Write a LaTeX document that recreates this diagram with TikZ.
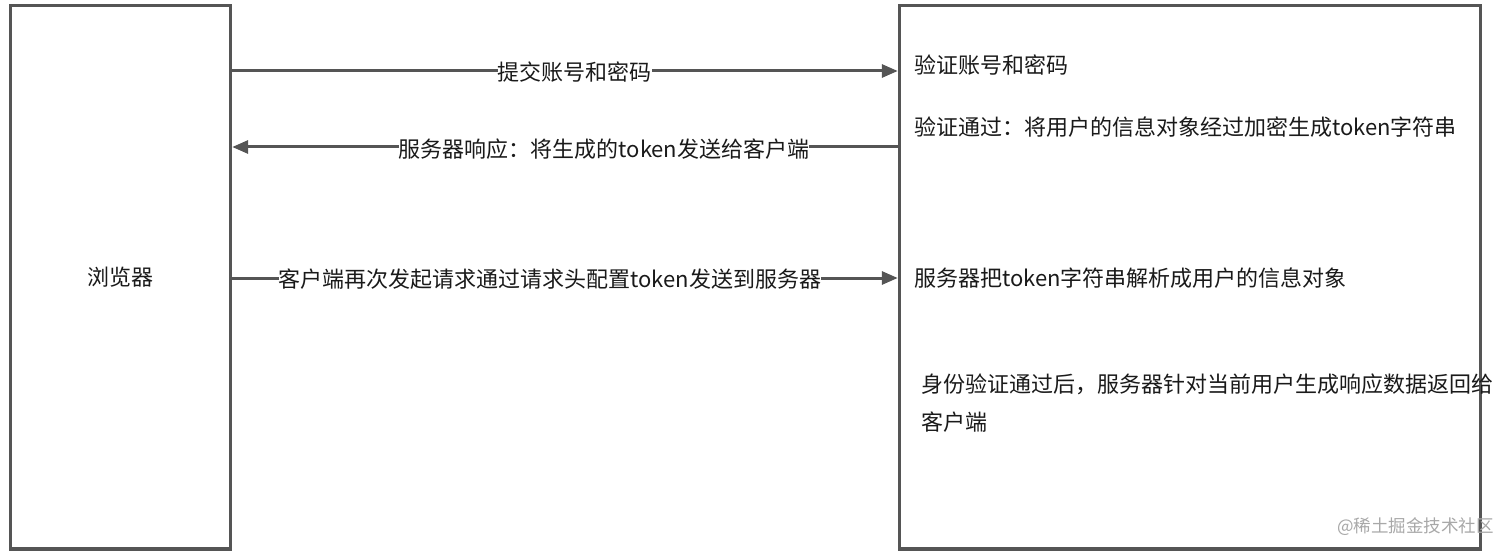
\documentclass[tikz,border=0pt]{standalone}
\usepackage{fontspec}
\setmainfont{Noto Sans CJK SC}
\usetikzlibrary{arrows.meta}
\definecolor{edge}{HTML}{555555}
\definecolor{txt}{HTML}{1A1A1A}
\definecolor{wm}{HTML}{A8A8A8}
\tikzset{
  panel/.style={draw=edge, line width=3.4pt, fill=white, inner sep=0pt},
  msg/.style={draw=edge, line width=3pt, -{Triangle[length=16pt,width=13pt]}},
  lbl/.style={fill=white, inner sep=0pt, text=txt, font=\fontsize{22}{26}\selectfont},
  note/.style={anchor=west, inner sep=0pt, text=txt, font=\fontsize{22}{26}\selectfont},
}
\begin{document}
\begin{tikzpicture}[x=1pt,y=-1pt]
\useasboundingbox (0,0) rectangle (1512,556);
\node[panel, minimum width=220pt, minimum height=543.5pt] (L) at (120.5,277.25) {};
\node[panel, minimum width=581pt, minimum height=543.5pt] (R) at (1190,277.25) {};
\node[lbl, fill=none] (Lt) at (L.center) {浏览器};

\coordinate (y1) at (0,71);
\coordinate (y2) at (0,147);
\coordinate (y3) at (0,278);

\draw[msg] (L.east |- y1) -- (R.west |- y1);
\draw[msg] (R.west |- y2) -- (L.east |- y2);
\draw[msg] (L.east |- y3) -- (R.west |- y3);

\node[lbl] (m1) at (574.5,72) {提交账号和密码};
\node[lbl] (m2) at (604,149) {服务器响应：将生成的token发送给客户端};
\node[lbl] (m3) at (550,279) {客户端再次发起请求通过请求头配置token发送到服务器};

\node[note] (r1) at (914,65) {验证账号和密码};
\node[note] (r2) at (914,127) {验证通过：将用户的信息对象经过加密生成token字符串};
\node[note] (r3) at (914,278) {服务器把token字符串解析成用户的信息对象};
\node[note] (r4) at (921,384) {身份验证通过后，服务器针对当前用户生成响应数据返回给};
\node[note] (r5) at (921,422) {客户端};

\node[anchor=east, inner sep=0pt, text=wm, font=\fontsize{17.5}{20}\selectfont] (w) at (1494,527) {@稀土掘金技术社区};
\end{tikzpicture}
\end{document}
